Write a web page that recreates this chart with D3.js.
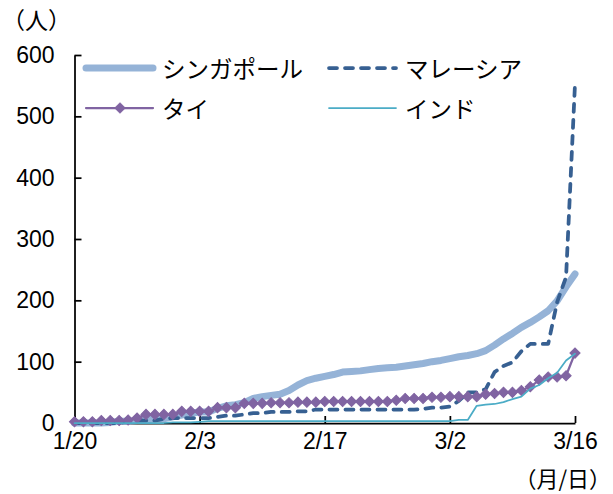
<!DOCTYPE html>
<html>
<head>
<meta charset="utf-8">
<script src="https://cdn.jsdelivr.net/npm/d3@7"></script>
<style>
  body { margin: 0; background: #fff; }
  svg { display: block; }
</style>
</head>
<body>
<svg id="chart" width="613" height="494"></svg>
<script>
// Cumulative confirmed cases, daily from 1/20 to 3/16 (57 days)
const startDate = new Date(2020, 0, 20);
const dayCount = 57;

const singapore = [
  0, 0, 0, 0, 1, 3, 3, 4, 5, 7, 7, 10,
  13, 16, 18, 18, 24, 28, 30, 33, 40, 43, 45, 47, 53, 62, 69, 73, 76, 79,
  83, 84, 85, 87, 89, 90, 91, 93, 95, 97, 100,
  102, 105, 108, 110, 113, 118, 127, 137, 146, 156, 164, 173, 183, 199, 222, 243
];
const malaysia = [
  0, 0, 0, 0, 0, 0, 3, 4, 4, 4, 7, 8,
  8, 8, 8, 8, 10, 12, 12, 14, 16, 16, 18, 18, 18, 19, 19, 22, 22, 22,
  22, 22, 22, 22, 22, 22, 22, 22, 22, 23, 25,
  25, 27, 36, 50, 50, 55, 83, 93, 99, 117, 129, 129, 129, 197, 238, 553
];
const thailand = [
  2, 2, 2, 4, 4, 4, 5, 8, 14, 14, 14, 14,
  19, 19, 19, 19, 25, 25, 25, 32, 32, 32, 33, 33, 33, 34, 34, 34, 35, 35,
  35, 35, 35, 35, 35, 35, 37, 40, 40, 40, 42,
  42, 43, 43, 43, 43, 47, 48, 50, 50, 53, 59, 70, 75, 75, 77, 114
];
const india = [
  0, 0, 0, 0, 0, 0, 0, 0, 0, 0, 0, 1,
  1, 1, 2, 3, 3, 3, 3, 3, 3, 3, 3, 3, 3, 3, 3, 3, 3, 3,
  3, 3, 3, 3, 3, 3, 3, 3, 3, 3, 3,
  3, 3, 5, 5, 28, 30, 31, 34, 39, 43, 56, 62, 73, 82, 102, 113
];

const seriesNames = ["シンガポール", "マレーシア", "タイ", "インド"];
const yTickValues = [0, 100, 200, 300, 400, 500, 600];
const xTickLabels = ["1/20", "2/3", "2/17", "3/2", "3/16"];
const yUnit = "（人）";
const xUnit = "（月/日）";

const dates = d3.range(dayCount).map(i => d3.timeDay.offset(startDate, i));
const xTickDates = d3.range(0, dayCount, 14).map(i => dates[i]);

const svg = d3.select("#chart");
const numFont = "'Liberation Sans', Arial, sans-serif";
const jpFont = "'Noto Sans CJK JP', 'Noto Sans', sans-serif";

const x = d3.scaleTime().domain([dates[0], dates[dayCount - 1]]).range([74.5, 575]);
const y = d3.scaleLinear().domain([0, 600]).range([423, 55]);

// Axes (ticks point inward)
const yAxis = svg.append("g")
  .attr("transform", `translate(${x.range()[0]},0)`)
  .call(d3.axisLeft(y).tickValues(yTickValues).tickSizeInner(-7).tickSizeOuter(0).tickPadding(20));
yAxis.selectAll("text").attr("font-family", numFont).attr("font-size", 23).attr("fill", "#000");

const xAxis = svg.append("g")
  .attr("transform", `translate(0,${y(0)})`)
  .call(d3.axisBottom(x).tickValues(xTickDates)
    .tickFormat((d, i) => xTickLabels[i])
    .tickSizeInner(-7).tickSizeOuter(0).tickPadding(10));
xAxis.selectAll("text").attr("font-family", numFont).attr("font-size", 23).attr("fill", "#000");

[yAxis, xAxis].forEach(g => {
  g.select(".domain").attr("stroke", "#000").attr("stroke-width", 1.75);
  g.selectAll(".tick line").attr("stroke", "#000").attr("stroke-width", 1.75);
});

// Series styles
const styles = [
  { values: singapore, color: "#95b3d7", width: 7, dash: null },
  { values: malaysia, color: "#376092", width: 3.75, dash: "8,8" },
  { values: thailand, color: "#8064a2", width: 2.25, dash: null, marker: true },
  { values: india, color: "#4bacc6", width: 1.75, dash: null }
];

const line = d3.line().x((d, i) => x(dates[i])).y(d => y(d));
const diamond = d3.symbol(d3.symbolSquare, 52);

styles.forEach(s => {
  svg.append("path")
    .datum(s.values)
    .attr("d", line)
    .attr("fill", "none")
    .attr("stroke", s.color)
    .attr("stroke-width", s.width)
    .attr("stroke-linejoin", "round")
    .attr("stroke-linecap", "round")
    .attr("stroke-dasharray", s.dash);
  if (s.marker) {
    svg.append("g").selectAll("path")
      .data(s.values)
      .join("path")
      .attr("d", diamond)
      .attr("transform", (d, i) => `translate(${x(dates[i])},${y(d)}) rotate(45)`)
      .attr("fill", s.color)
      .attr("stroke", s.color)
      .attr("stroke-width", 1);
  }
});

// Legend: two columns, two rows
const legendPos = [
  { x: 86, y: 68 }, { x: 329, y: 68 },
  { x: 86, y: 108 }, { x: 329, y: 108 }
];
styles.forEach((s, i) => {
  const p = legendPos[i];
  const g = svg.append("g").attr("transform", `translate(${p.x},${p.y})`);
  g.append("line")
    .attr("x1", 0).attr("x2", 67).attr("y1", 0).attr("y2", 0)
    .attr("stroke", s.color)
    .attr("stroke-width", s.width)
    .attr("stroke-linecap", "round")
    .attr("stroke-dasharray", s.dash);
  if (s.marker) {
    g.append("path").attr("d", diamond).attr("transform", "translate(34,0) rotate(45)")
      .attr("fill", s.color).attr("stroke", s.color);
  }
  g.append("text")
    .attr("x", 76).attr("y", 0)
    .attr("dominant-baseline", "central")
    .attr("font-family", jpFont).attr("font-size", 23.5).attr("fill", "#000")
    .text(seriesNames[i]);
});

// Unit labels
svg.append("text").attr("x", 2).attr("y", 19)
  .attr("dominant-baseline", "central")
  .attr("font-family", jpFont).attr("font-size", 23).attr("fill", "#000")
  .text(yUnit);
svg.append("text").attr("x", 611).attr("y", 477)
  .attr("text-anchor", "end")
  .attr("dominant-baseline", "central")
  .attr("font-family", jpFont).attr("font-size", 22).attr("fill", "#000")
  .text(xUnit);
</script>
</body>
</html>
